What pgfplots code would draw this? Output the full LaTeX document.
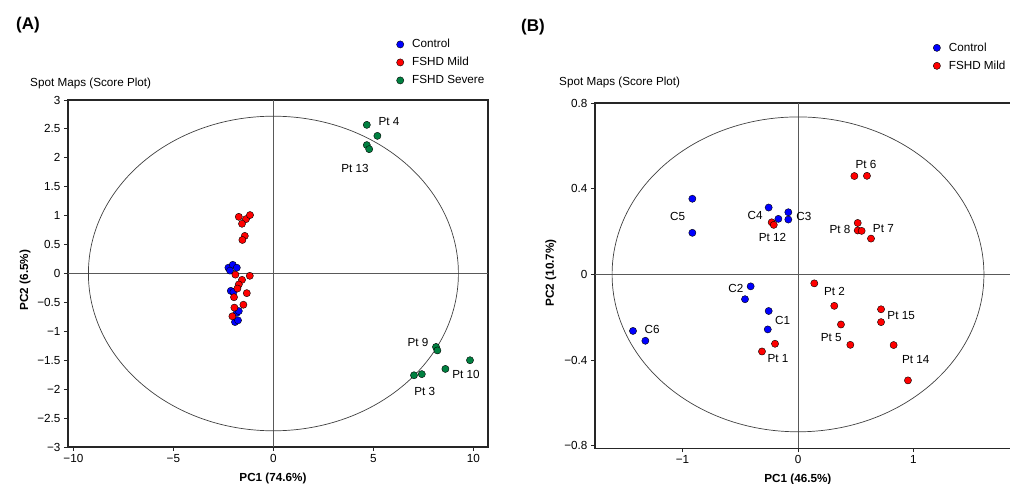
\documentclass[border=0pt]{standalone}
\usepackage{fontspec}
\setmainfont{Liberation Sans}
\usepackage{pgfplots}
\pgfplotsset{compat=1.18}
\definecolor{cblue}{RGB}{0,0,255}
\definecolor{cred}{RGB}{255,0,0}
\definecolor{cgreen}{RGB}{0,128,64}
\newcommand{\fs}{\fontsize{11.7}{13}\selectfont}
\pgfplotsset{
 pcastyle/.style={
  scale only axis,
  axis line style={line width=1.3pt, color=black!85},
  tick align=outside,
  tick pos=left,
  major tick length=4pt,
  tick style={line width=0.9pt, color=black!85},
  ticklabel style={font=\fs},
  label style={font=\fs\bfseries},
  /pgf/number format/assume math mode=true,
  legend cell align=left,
  legend style={draw=none, fill=none, font=\fs, anchor=north west, inner sep=0pt,
    row sep=3.5pt, nodes={inner sep=2pt, text height=8.5pt, text depth=2pt}},
 },
 mk/.style={only marks, mark=*, mark size=3.6pt, mark options={draw=black, line width=0.4pt, fill=#1}},
}
\begin{document}
\begin{tikzpicture}
\path[use as bounding box] (0,0) rectangle (1010pt,484pt);
% ---------------- Panel A ----------------
\begin{axis}[pcastyle,
  at={(68pt,37pt)}, anchor=south west,
  width=420pt, height=347pt,
  xmin=-10.27, xmax=10.73, ymin=-3, ymax=3,
  xtick={-10,-5,0,5,10}, xticklabels={−10,−5,0,5,10},
  ytick={-3,-2.5,-2,-1.5,-1,-0.5,0,0.5,1,1.5,2,2.5,3},
  yticklabels={−3,−2.5,−2,−1.5,−1,−0.5,0,0.5,1,1.5,2,2.5,3},
  xlabel={PC1 (74.6\%)}, ylabel={PC2 (6.5\%)},
  xlabel style={at={(axis description cs:0.488,-0.0893)}, anchor=center},
  ylabel style={at={(axis description cs:-0.102,0.481)}, anchor=center},
  legend style={at={(axis description cs:0.781,1.1816)}},
  legend image code/.code={\path[draw=none,fill=none] (-4pt,0pt) (10pt,0pt); \draw[#1] plot coordinates {(0pt,0pt)};},
]
\draw[black!65, line width=0.7pt] (axis cs:0,-3) -- (axis cs:0,3);
\draw[black!65, line width=0.7pt] (axis cs:-10.27,0) -- (axis cs:10.73,0);
\draw[black!75, line width=0.7pt] (axis cs:0,0) ellipse [x radius=9.25, y radius=2.72];
\addplot[mk=cblue] coordinates {
(-2.25,0.10) (-2.03,0.15) (-1.83,0.10) (-2.17,0.05)
(-2.13,-0.30) (-2.00,-0.32) (-1.83,-0.68) (-1.73,-0.65)
(-1.92,-0.84) (-1.77,-0.81)
};
\addlegendentry{Control}
\addplot[mk=cred] coordinates {
(-1.73,0.98) (-1.37,0.94) (-1.17,1.01) (-1.57,0.86)
(-1.43,0.65) (-1.55,0.58) (-1.90,-0.02) (-1.18,-0.04)
(-1.57,-0.11) (-1.73,-0.19) (-1.80,-0.26) (-1.33,-0.34)
(-1.97,-0.41) (-1.50,-0.54) (-1.95,-0.59) (-2.05,-0.74)
};
\addlegendentry{FSHD Mild}
\addplot[mk=cgreen] coordinates {
(4.67,2.57) (5.20,2.38) (4.67,2.22) (4.79,2.15)
(8.13,-1.27) (8.20,-1.33) (7.03,-1.76) (7.42,-1.74)
(8.60,-1.65) (9.83,-1.50)
};
\addlegendentry{FSHD Severe}
\node[font=\fs] at (axis cs:5.78,2.63) {Pt 4};
\node[font=\fs] at (axis cs:4.08,1.82) {Pt 13};
\node[font=\fs] at (axis cs:7.23,-1.19) {Pt 9};
\node[font=\fs] at (axis cs:9.63,-1.75) {Pt 10};
\node[font=\fs] at (axis cs:7.57,-2.04) {Pt 3};
\end{axis}
% ---------------- Panel B ----------------
\begin{axis}[pcastyle,
  at={(595pt,35.7pt)}, anchor=south west,
  width=420pt, height=345.3pt,
  xmin=-1.758, xmax=1.879, ymin=-0.812, ymax=0.8,
  xtick={-1,0,1}, xticklabels={−1,0,1},
  ytick={-0.8,-0.4,0,0.4,0.8},
  yticklabels={−0.8,−0.4,0,0.4,0.8},
  xlabel={PC1 (46.5\%)}, ylabel={PC2 (10.7\%)},
  xlabel style={at={(axis description cs:0.483,-0.0889)}, anchor=center},
  ylabel style={at={(axis description cs:-0.105,0.508)}, anchor=center},
  legend style={at={(axis description cs:0.804,1.1813)}},
  legend image code/.code={\path[draw=none,fill=none] (-4pt,0pt) (10pt,0pt); \draw[#1] plot coordinates {(0pt,0pt)};},
]
\draw[black!65, line width=0.7pt] (axis cs:0,-0.812) -- (axis cs:0,0.8);
\draw[black!65, line width=0.7pt] (axis cs:-1.758,0) -- (axis cs:1.879,0);
\draw[black!75, line width=0.7pt] (axis cs:0,0) ellipse [x radius=1.61, y radius=0.735];
\addplot[mk=cblue] coordinates {
(-0.915,0.353) (-0.915,0.194) (-0.254,0.312) (-0.170,0.259)
(-0.084,0.290) (-0.084,0.256)
(-0.410,-0.056) (-0.459,-0.116) (-0.254,-0.171) (-0.262,-0.257)
(-1.429,-0.264) (-1.322,-0.310)
};
\addlegendentry{Control}
\addplot[mk=cred] coordinates {
(0.488,0.459) (0.597,0.460) (-0.228,0.243) (-0.210,0.231)
(0.517,0.240) (0.517,0.205) (0.551,0.203) (0.632,0.167)
(-0.199,-0.324) (-0.312,-0.360) (0.141,-0.042) (0.314,-0.147)
(0.372,-0.234) (0.453,-0.329) (0.719,-0.163) (0.719,-0.223)
(0.828,-0.330) (0.952,-0.495)
};
\addlegendentry{FSHD Mild}
\node[font=\fs] at (axis cs:-1.043,0.271) {C5};
\node[font=\fs] at (axis cs:-0.372,0.276) {C4};
\node[font=\fs] at (axis cs:0.050,0.271) {C3};
\node[font=\fs] at (axis cs:-0.221,0.172) {Pt 12};
\node[font=\fs] at (axis cs:0.364,0.208) {Pt 8};
\node[font=\fs] at (axis cs:0.739,0.212) {Pt 7};
\node[font=\fs] at (axis cs:0.589,0.512) {Pt 6};
\node[font=\fs] at (axis cs:-0.538,-0.065) {C2};
\node[font=\fs] at (axis cs:-0.134,-0.217) {C1};
\node[font=\fs] at (axis cs:-1.264,-0.256) {C6};
\node[font=\fs] at (axis cs:-0.173,-0.395) {Pt 1};
\node[font=\fs] at (axis cs:0.316,-0.079) {Pt 2};
\node[font=\fs] at (axis cs:0.287,-0.293) {Pt 5};
\node[font=\fs] at (axis cs:0.893,-0.194) {Pt 15};
\node[font=\fs] at (axis cs:1.020,-0.397) {Pt 14};
\end{axis}
% ---------------- Titles ----------------
\node[font=\fontsize{17}{19}\selectfont\bfseries] at (28pt,459pt) {(A)};
\node[font=\fontsize{17}{19}\selectfont\bfseries] at (533pt,457pt) {(B)};
\node[font=\fs, anchor=west, inner sep=0pt] at (30pt,401pt) {Spot Maps (Score Plot)};
\node[font=\fs, anchor=west, inner sep=0pt] at (559pt,402pt) {Spot Maps (Score Plot)};
\end{tikzpicture}
\end{document}
